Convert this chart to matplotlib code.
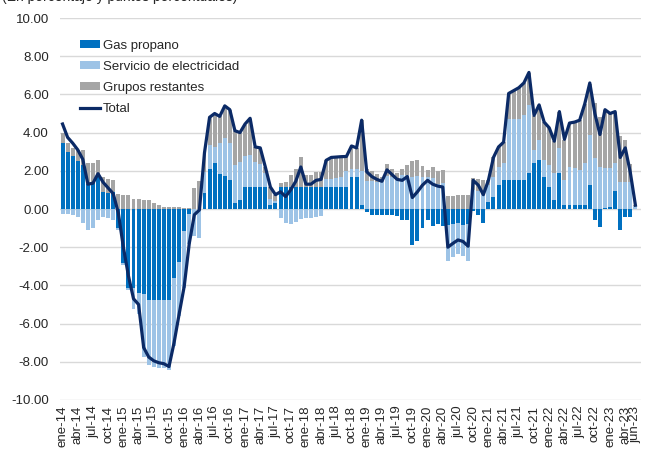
import matplotlib
matplotlib.use("Agg")
import matplotlib.pyplot as plt
from matplotlib.patches import Patch
from matplotlib.lines import Line2D
import numpy as np

plt.rcParams['font.family'] = ['Liberation Sans', 'DejaVu Sans']
plt.rcParams['axes.unicode_minus'] = False

months = ['ene', 'feb', 'mar', 'abr', 'may', 'jun', 'jul', 'ago', 'sep', 'oct', 'nov', 'dic']
years = ['14', '15', '16', '17', '18', '19', '20', '21', '22', '23']
categories = [f"{m}-{y}" for y in years for m in months][:114]

gas_propano = [
    3.45, 3.0, 2.75, 2.5, 2.3, 1.3, 1.35, 1.7, 0.9, 0.85, 0.9, -1.0,
    -2.85, -4.15, -4.15, -4.4, -4.45, -4.75, -4.75, -4.75, -4.75, -4.75, -3.6, -2.75,
    -1.15, -0.25, 0.0, 0.0, 0.85, 2.1, 2.4, 1.85, 1.75, 1.5, 0.3, 0.45,
    1.17, 1.17, 1.17, 1.17, 1.17, 0.2, 0.3, 1.17, 1.17, 1.17, 1.17, 1.17,
    1.17, 1.17, 1.17, 1.17, 1.17, 1.17, 1.17, 1.17, 1.17, 1.7, 1.7, 0.2,
    -0.15, -0.3, -0.3, -0.3, -0.3, -0.3, -0.35, -0.6, -0.6, -1.9, -1.65, -1.0,
    -0.55, -0.9, -0.8, -0.9, -0.85, -0.8, -0.75, -0.85, -0.8, -0.1, -0.3, -0.75,
    0.35, 0.65, 1.26, 1.52, 1.52, 1.52, 1.52, 1.52, 1.87, 2.39, 2.57, 1.7,
    1.17, 0.47, 1.87, 0.2, 0.2, 0.2, 0.2, 0.2, 1.26, -0.58, -0.92, 0.05,
    0.1, 0.96, -1.1, -0.4, -0.4, 0.0,
]

electricidad = [
    -0.25, -0.25, -0.3, -0.4, -0.75, -1.1, -1.0, -0.6, -0.4, -0.45, -0.6, -0.1,
    -0.1, -0.1, -1.1, -1.1, -3.3, -3.4, -3.5, -3.55, -3.6, -3.7, -3.55, -2.85,
    -3.0, -1.6, -1.4, -1.5, 1.1, 1.25, 0.85, 1.6, 1.95, 1.95, 2.0, 2.0,
    1.6, 1.65, 1.3, 1.2, 0.7, 0.3, 0.1, -0.45, -0.75, -0.8, -0.7, -0.5,
    -0.45, -0.45, -0.4, -0.35, 0.4, 0.4, 0.45, 0.5, 0.8, 0.4, 0.4, 1.8,
    1.45, 1.45, 1.4, 1.5, 1.75, 1.7, 1.6, 1.8, 1.8, 1.7, 1.75, 1.7,
    1.65, 1.6, 1.3, 1.35, -1.85, -1.7, -1.6, -1.6, -1.9, 1.0, 0.95, 0.9,
    0.9, 1.05, 0.95, 0.9, 3.2, 3.2, 3.2, 3.4, 3.57, 0.7, 1.04, 0.87,
    1.13, 1.4, 1.31, 1.32, 2.02, 1.93, 1.84, 2.19, 2.61, 2.65, 2.22, 2.08,
    2.03, 1.43, 1.43, 1.43, 1.43, 0.15,
]

grupos_restantes = [
    0.55, 0.45, 0.45, 0.6, 0.8, 1.1, 1.05, 0.85, 0.75, 0.7, 0.6, 0.8,
    0.75, 0.75, 0.5, 0.5, 0.47, 0.45, 0.3, 0.2, 0.12, 0.12, 0.1, 0.08,
    0.05, 0.05, 1.1, 1.45, 1.0, 1.45, 1.75, 1.4, 1.7, 1.75, 1.8, 1.55,
    1.65, 1.9, 0.77, 0.8, 0.33, 0.65, 0.35, 0.2, 0.25, 0.6, 0.95, 1.55,
    0.6, 0.6, 0.75, 0.75, 0.98, 1.13, 1.1, 1.07, 0.78, 1.2, 1.1, 2.65,
    0.65, 0.55, 0.45, 0.2, 0.6, 0.4, 0.3, 0.3, 0.5, 0.8, 0.8, 0.55,
    0.4, 0.6, 0.7, 0.7, 0.7, 0.7, 0.73, 0.75, 0.75, 0.6, 0.6, 0.6,
    0.25, 1.0, 1.05, 1.1, 1.35, 1.45, 1.6, 1.7, 1.7, 1.8, 1.84, 2.0,
    1.95, 1.7, 1.9, 2.1, 2.3, 2.4, 2.6, 3.1, 2.7, 2.9, 2.6, 3.05,
    2.85, 2.7, 2.4, 2.2, 0.9, 0.05,
]

total = [
    4.45, 3.75, 3.45, 3.1, 2.6, 1.3, 1.35, 1.85, 1.4, 1.1, 0.8, -0.2,
    -2.0, -3.5, -4.7, -5.0, -7.25, -7.75, -7.95, -8.05, -8.1, -8.25, -7.0, -5.5,
    -4.05, -1.8, -0.3, -0.05, 2.95, 4.8, 5.0, 4.85, 5.4, 5.2, 4.1, 4.0,
    4.45, 4.75, 3.25, 3.2, 2.2, 1.15, 0.75, 0.9, 0.65, 1.0, 1.45, 2.2,
    1.3, 1.3, 1.5, 1.55, 2.55, 2.7, 2.72, 2.74, 2.75, 3.3, 3.2, 4.65,
    1.95, 1.7, 1.55, 1.45, 2.05, 1.8, 1.55, 1.5, 1.7, 0.6, 0.9, 1.25,
    1.5, 1.3, 1.2, 1.15, -2.0, -1.8, -1.62, -1.7, -1.95, 1.5, 1.25, 0.75,
    1.5, 2.7, 3.25, 3.5, 6.05, 6.2, 6.35, 6.6, 7.15, 4.9, 5.45, 4.55,
    4.25, 3.55, 5.1, 3.65, 4.5, 4.55, 4.65, 5.5, 6.6, 5.0, 3.9, 5.2,
    5.0, 5.1, 2.7, 3.2, 1.9, 0.2,
]

series_names = ['Gas propano', 'Servicio de electricidad', 'Grupos restantes']
series_colors = ['#0070C0', '#9DC3E6', '#A5A5A5']
total_color = '#0B2A66'
title_text = "(En porcentaje y puntos porcentuales)"

fig = plt.figure(figsize=(6.45, 4.49), dpi=100)
W, H = 645, 449
ax = fig.add_axes([60 / W, 1 - 400 / H, 581 / W, 382 / H])

x = np.arange(len(categories))
pos_bottom = np.zeros(len(x))
neg_bottom = np.zeros(len(x))
for vals, name, col in zip([gas_propano, electricidad, grupos_restantes], series_names, series_colors):
    v = np.array(vals, dtype=float)
    bottom = np.where(v >= 0, pos_bottom, neg_bottom)
    ax.bar(x, v, bottom=bottom, width=0.78, color=col, linewidth=0, zorder=2)
    pos_bottom = pos_bottom + np.where(v >= 0, v, 0)
    neg_bottom = neg_bottom + np.where(v < 0, v, 0)

ax.plot(x, total, color=total_color, linewidth=2.3, zorder=3, solid_joinstyle='round')

ax.set_ylim(-10, 10)
ax.set_xlim(-0.5, 114.1)
ax.set_yticks(np.arange(-10, 10.01, 2))
ax.set_yticklabels([f"{t:.2f}" for t in np.arange(-10, 10.01, 2)], fontsize=9.5, color='#262626')
ax.yaxis.grid(True, color='#D9D9D9', linewidth=1.0, zorder=0)
ax.set_axisbelow(True)

tick_pos = list(range(0, 112, 3)) + [113]
ax.set_xticks(tick_pos)
ax.set_xticklabels([categories[i] for i in tick_pos], rotation=90, fontsize=9.5, color='#262626')
ax.tick_params(axis='both', length=0)
ax.tick_params(axis='y', pad=8)
ax.tick_params(axis='x', pad=4)
for s in ax.spines.values():
    s.set_visible(False)

handles = [Patch(facecolor=c, edgecolor='none') for c in series_colors]
handles.append(Line2D([0], [0], color=total_color, linewidth=2.3))
leg = fig.legend(handles, series_names + ['Total'], loc='upper left',
                 bbox_to_anchor=(80 / W, 1 - 40 / H), frameon=False, fontsize=9.5,
                 handlelength=1.5, handleheight=0.55, handletextpad=0.25,
                 labelspacing=0.68, borderpad=0, borderaxespad=0)
for t in leg.get_texts():
    t.set_color('#262626')

fig.text(2 / W, 1 - 1 / H, title_text, fontsize=10, va='baseline', ha='left', color='#262626')

fig.savefig('out.png', dpi=100)
